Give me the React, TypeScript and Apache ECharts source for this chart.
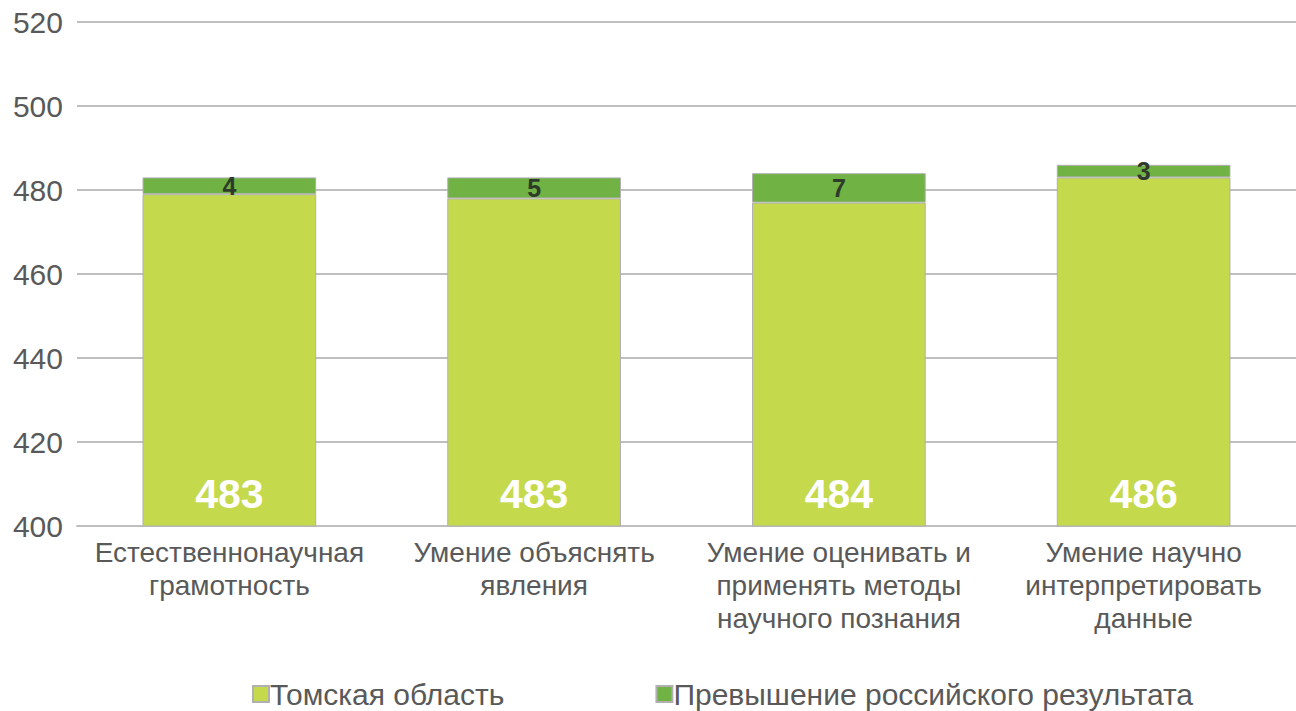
import React, { useEffect, useRef } from "react";
import * as echarts from "echarts";

const categories = [
  "Естественнонаучная\nграмотность",
  "Умение объяснять\nявления",
  "Умение оценивать и\nприменять методы\nнаучного познания",
  "Умение научно\nинтерпретировать\nданные",
];
const russiaBase = [479, 478, 477, 483];
const excess = [4, 5, 7, 3];
const tomskTotals = [483, 483, 484, 486];
const seriesNames = ["Томская область", "Превышение российского результата"];

const FONT = "'Liberation Sans', Arial, sans-serif";

export default function App() {
  const ref = useRef<HTMLDivElement>(null);
  useEffect(() => {
    if (!ref.current) return;
    const chart = echarts.init(ref.current, null, { renderer: "svg" });
    chart.setOption({
      animation: false,
      textStyle: { fontFamily: FONT },
      grid: { left: 77, right: -9, top: 22, bottom: 185, containLabel: false },
      legend: {
        top: 674,
        left: 247,
        itemWidth: 16,
        itemHeight: 16,
        itemGap: 151,
        icon: "rect",
        textStyle: { fontSize: 30, color: "#595959", fontFamily: FONT, padding: [0, 0, 0, -4] },
        data: seriesNames,
      },
      xAxis: {
        type: "category",
        data: categories,
        axisLine: { show: true, lineStyle: { color: "#bfbfbf", width: 2 } },
        axisTick: { show: false },
        axisLabel: { fontSize: 28, color: "#595959", lineHeight: 33, margin: 10, interval: 0 },
      },
      yAxis: {
        type: "value",
        min: 400,
        max: 520,
        interval: 20,
        axisLine: { show: false },
        axisTick: { show: false },
        axisLabel: { fontSize: 30, color: "#595959", margin: 14 },
        splitLine: { lineStyle: { color: "#bfbfbf", width: 2 } },
      },
      series: [
        {
          name: seriesNames[0],
          type: "bar",
          stack: "total",
          barWidth: "57%",
          data: russiaBase,
          itemStyle: { color: "#c5d94c", borderColor: "#b0b0b0", borderWidth: 1 },
          label: {
            show: true,
            position: "insideBottom",
            distance: 12,
            color: "#ffffff",
            fontWeight: "bold",
            fontSize: 41,
            formatter: (p: any) => String(tomskTotals[p.dataIndex]),
          },
        },
        {
          name: seriesNames[1],
          type: "bar",
          stack: "total",
          data: excess,
          itemStyle: { color: "#70b244", borderColor: "#b0b0b0", borderWidth: 1 },
          label: {
            show: true,
            position: "inside",
            color: "#2e3b2a",
            fontWeight: "bold",
            fontSize: 25,
          },
        },
      ],
    });
    return () => chart.dispose();
  }, []);
  return (
    <div
      ref={ref}
      style={{ position: "fixed", left: 0, top: 0, width: 1296, height: 711, background: "#fff" }}
    />
  );
}
